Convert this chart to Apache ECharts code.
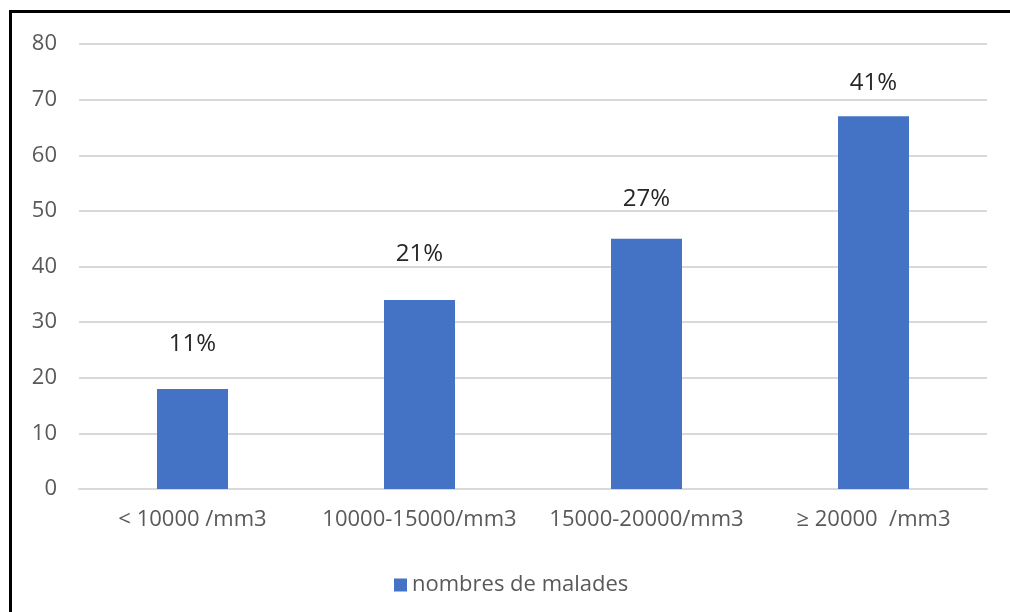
<!DOCTYPE html>
<html>
<head>
<meta charset="utf-8">
<script src="https://cdn.jsdelivr.net/npm/echarts@6/dist/echarts.min.js"></script>
<style>
  html, body { margin: 0; padding: 0; background: #fff; }
  #chart { width: 1010px; height: 612px; }
</style>
</head>
<body>
<div id="chart"></div>
<script>
// Platelet count classes and number of patients in each
const categories = ['< 10000 /mm3', '10000-15000/mm3', '15000-20000/mm3', '\u2265 20000  /mm3'];
const patients = [18, 34, 45, 67];
const seriesName = 'nombres de malades';
const yTicks = { min: 0, max: 80, interval: 10 };
// gap between each bar top and its percentage label
const labelGaps = [33, 34, 28, 21];

const total = patients.reduce((a, b) => a + b, 0);
const FONT = '"Open Sans", "Noto Sans", sans-serif';

const chart = echarts.init(document.getElementById('chart'), null, { renderer: 'canvas' });
chart.setOption({
  backgroundColor: '#ffffff',
  animation: false,
  grid: { left: 79, right: 23, top: 44, bottom: 123, containLabel: false },
  legend: {
    data: [seriesName],
    top: 569,
    left: 389,
    icon: 'rect',
    itemWidth: 13,
    itemHeight: 13,
    itemGap: 6,
    textStyle: { fontFamily: FONT, fontSize: 22, color: '#595959' }
  },
  xAxis: {
    type: 'category',
    data: categories,
    axisLine: { lineStyle: { color: '#d9d9d9', width: 2 } },
    axisTick: { show: false },
    axisLabel: { fontFamily: FONT, fontSize: 22, color: '#595959', margin: 20, interval: 0 }
  },
  yAxis: {
    type: 'value',
    min: yTicks.min,
    max: yTicks.max,
    interval: yTicks.interval,
    axisLine: { show: false },
    axisTick: { show: false },
    splitLine: { lineStyle: { color: '#d9d9d9', width: 2 } },
    axisLabel: { fontFamily: FONT, fontSize: 22, color: '#595959', margin: 22 }
  },
  series: [{
    name: seriesName,
    type: 'bar',
    barWidth: 71,
    itemStyle: { color: '#4472c4' },
    data: patients.map((v, i) => ({
      value: v,
      label: { distance: labelGaps[i] }
    })),
    label: {
      show: true,
      position: 'top',
      fontFamily: FONT,
      fontSize: 24,
      color: '#262626',
      formatter: p => Math.round(p.value / total * 100) + '%'
    }
  }],
  graphic: [{
    type: 'rect',
    shape: { x: 10.5, y: 11.5, width: 1100, height: 700 },
    style: { fill: 'none', stroke: '#000000', lineWidth: 3 },
    silent: true,
    z: 100
  }]
});
</script>
</body>
</html>
